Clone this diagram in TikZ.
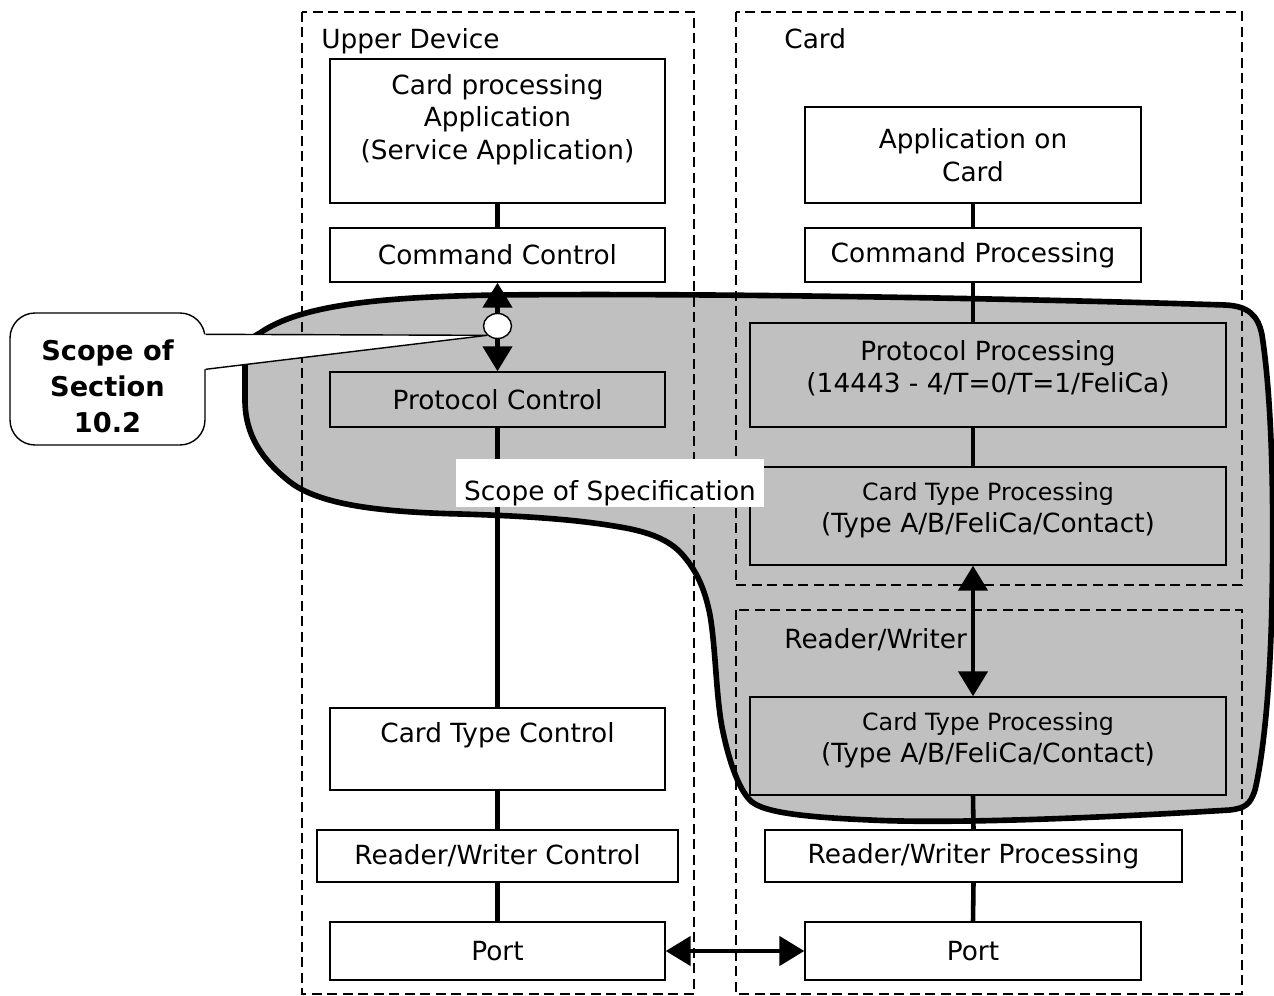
\documentclass[tikz,border=0pt]{standalone}
\usepackage{fontspec}
\setmainfont{DejaVu Sans}
\usetikzlibrary{arrows, positioning, fit, calc, arrows.meta, shapes.geometric}
\definecolor{scopegray}{RGB}{192,192,192}
\tikzset{
    %Define standard arrow tip
    >={Triangle[length=0.5cm, width=0.58cm]},
    %Define style for boxes
    kasse/.style={
           rectangle,
           draw=black, line width=0.8pt,
           fill=white,
           minimum width=6.7cm,
           minimum height=1.08cm,
           inner sep=0pt,
           align=center,
           font=\fontsize{15}{18.5}\selectfont},
    graa/.style={kasse, fill=scopegray},
    % Define style for dashed frames
    ramme/.style={
           draw=black, line width=1.4pt,
           dash pattern=on 0.2cm off 0.11cm},
    % Define line and arrow style
    streg/.style={line width=2.6pt},
    pil/.style={
           <->,
           line width=2.6pt},
    etiket/.style={anchor=base west, inner sep=0pt, font=\fontsize{15}{18.5}\selectfont}
}

\begin{document}
\begin{tikzpicture}[x=0.02cm, y=-0.02cm]
	\useasboundingbox (0,0) rectangle (1274,996);
	%
	% omraade
	%
	\draw[fill=scopegray, line width=3.2pt]
	  (260,333) .. controls (300,305) and (380,297) .. (497,295)
	  .. controls (700,293) and (1000,298) .. (1225,305)
	  .. controls (1248,306) and (1258,315) .. (1262,335)
	  .. controls (1272,400) and (1274,500) .. (1272,600)
	  .. controls (1270,700) and (1262,760) .. (1255,790)
	  .. controls (1250,805) and (1245,808) .. (1230,810)
	  .. controls (1100,818) and (950,824) .. (870,820)
	  .. controls (800,817) and (765,812) .. (752,802)
	  .. controls (740,792) and (730,765) .. (723,732)
	  .. controls (716,700) and (716,650) .. (710,615)
	  .. controls (705,590) and (697,570) .. (680,552)
	  .. controls (668,540) and (650,532) .. (620,527)
	  .. controls (580,520) and (530,516) .. (460,514)
	  .. controls (380,512) and (320,505) .. (290,482)
	  .. controls (262,460) and (245,435) .. (245,400)
	  -- (245,355)
	  .. controls (245,345) and (250,338) .. (260,333) -- cycle;
	%
	% rammer
	%
	\draw[ramme] (302,12) rectangle (694,994);
	\draw[ramme] (736,12) rectangle (1242,585);
	\draw[ramme] (736,610) rectangle (1242,994);
	\node[etiket] (upper) at (321,49) {Upper Device};
	\node[etiket] (card) at (784,49) {Card};
	\node[etiket] (rwlabel) at (784,648) {Reader/Writer};
	%
	% noeuds
	%
	\node[kasse, minimum height=2.88cm] (app1) at (497.5,131) {Card processing\\Application\\(Service Application)\\[-2.5pt]\mbox{}};
	\node[kasse] (cmd1) at (497.5,255) {Command Control};
	\node[graa, minimum height=1.1cm] (prot1) at (497.5,399.5) {Protocol Control};
	\node[kasse, minimum height=1.64cm] (ctype1) at (497.5,749) {Card Type Control\\\mbox{}};
	\node[kasse, minimum width=7.22cm, minimum height=1.04cm] (rw1) at (497.5,856) {Reader/Writer Control};
	\node[kasse, minimum height=1.16cm] (port1) at (497.5,951) {Port};

	\node[kasse, minimum width=6.72cm, minimum height=1.92cm] (app2) at (973,155) {Application on\\Card};
	\node[kasse, minimum width=6.72cm] (cmd2) at (973,255) {Command Processing};
	\node[graa, minimum width=9.52cm, minimum height=2.08cm] (prot2) at (988,375) {Protocol Processing\\(14443 - 4/T=0/T=1/FeliCa)\\[-9pt]\mbox{}};
	\node[graa, minimum width=9.52cm, minimum height=1.96cm] (ctype2) at (988,516) {{\fontsize{13.5}{18.5}\selectfont Card Type Processing}\\(Type A/B/FeliCa/Contact)\\[-9pt]\mbox{}};
	\node[graa, minimum width=9.52cm, minimum height=1.96cm] (ctype3) at (988,746) {{\fontsize{13.5}{18.5}\selectfont Card Type Processing}\\(Type A/B/FeliCa/Contact)\\[-9pt]\mbox{}};
	\node[kasse, minimum width=8.34cm, minimum height=1.04cm] (rw2) at (973.5,856) {Reader/Writer Processing};
	\node[kasse, minimum width=6.72cm, minimum height=1.16cm] (port2) at (973,951) {Port};
	%
	% Liens
	%
	\draw[streg] (app1.south) -- (cmd1.north);
	\draw[pil] (cmd1.south) -- (prot1.north);
	\draw[streg] (prot1.south) -- (ctype1.north);
	\draw[streg] (ctype1.south) -- (rw1.north);
	\draw[streg] (rw1.south) -- (port1.north);

	\draw[streg] (app2.south) -- (cmd2.north);
	\draw[streg] (cmd2.south) -- (cmd2.south |- prot2.north);
	\draw[streg] (cmd2.south |- prot2.south) -- (cmd2.south |- ctype2.north);
	\draw[pil] (cmd2.south |- ctype2.south) -- (cmd2.south |- ctype3.north);
	\draw[streg] (cmd2.south |- ctype3.south) -- (rw2.north);
	\draw[streg] (rw2.south) -- (port2.north);

	\draw[pil] (port1.east) -- (port2.west);
	%
	% scope
	%
	\node[fill=white, inner sep=0pt, minimum width=6.16cm, minimum height=0.96cm,
	      text height=0.7cm, text depth=0cm, font=\fontsize{15}{18.5}\selectfont] (spec) at (610,483) {Scope of Specification};
	\node[ellipse, draw, fill=white, line width=0.8pt, minimum width=0.56cm, minimum height=0.5cm, inner sep=0pt] (dot) at (497.5,326) {};
	\node[draw, fill=white, line width=0.8pt, rounded corners=0.5cm, minimum width=3.9cm, minimum height=2.64cm,
	      align=center, font=\bfseries\fontsize{15.5}{20.5}\selectfont] (scope) at (107.5,379) {\mbox{}\\Scope of\\Section\\10.2};
	\fill[white] ($(scope.north east)+(-3,22)$) -- (dot.south west) -- ($(scope.north east)+(-3,57)$) -- cycle;
	\draw[line width=0.8pt] ($(scope.north east)+(0,22)$) -- (dot.south west) -- ($(scope.north east)+(0,57)$);
\end{tikzpicture}
\end{document}
